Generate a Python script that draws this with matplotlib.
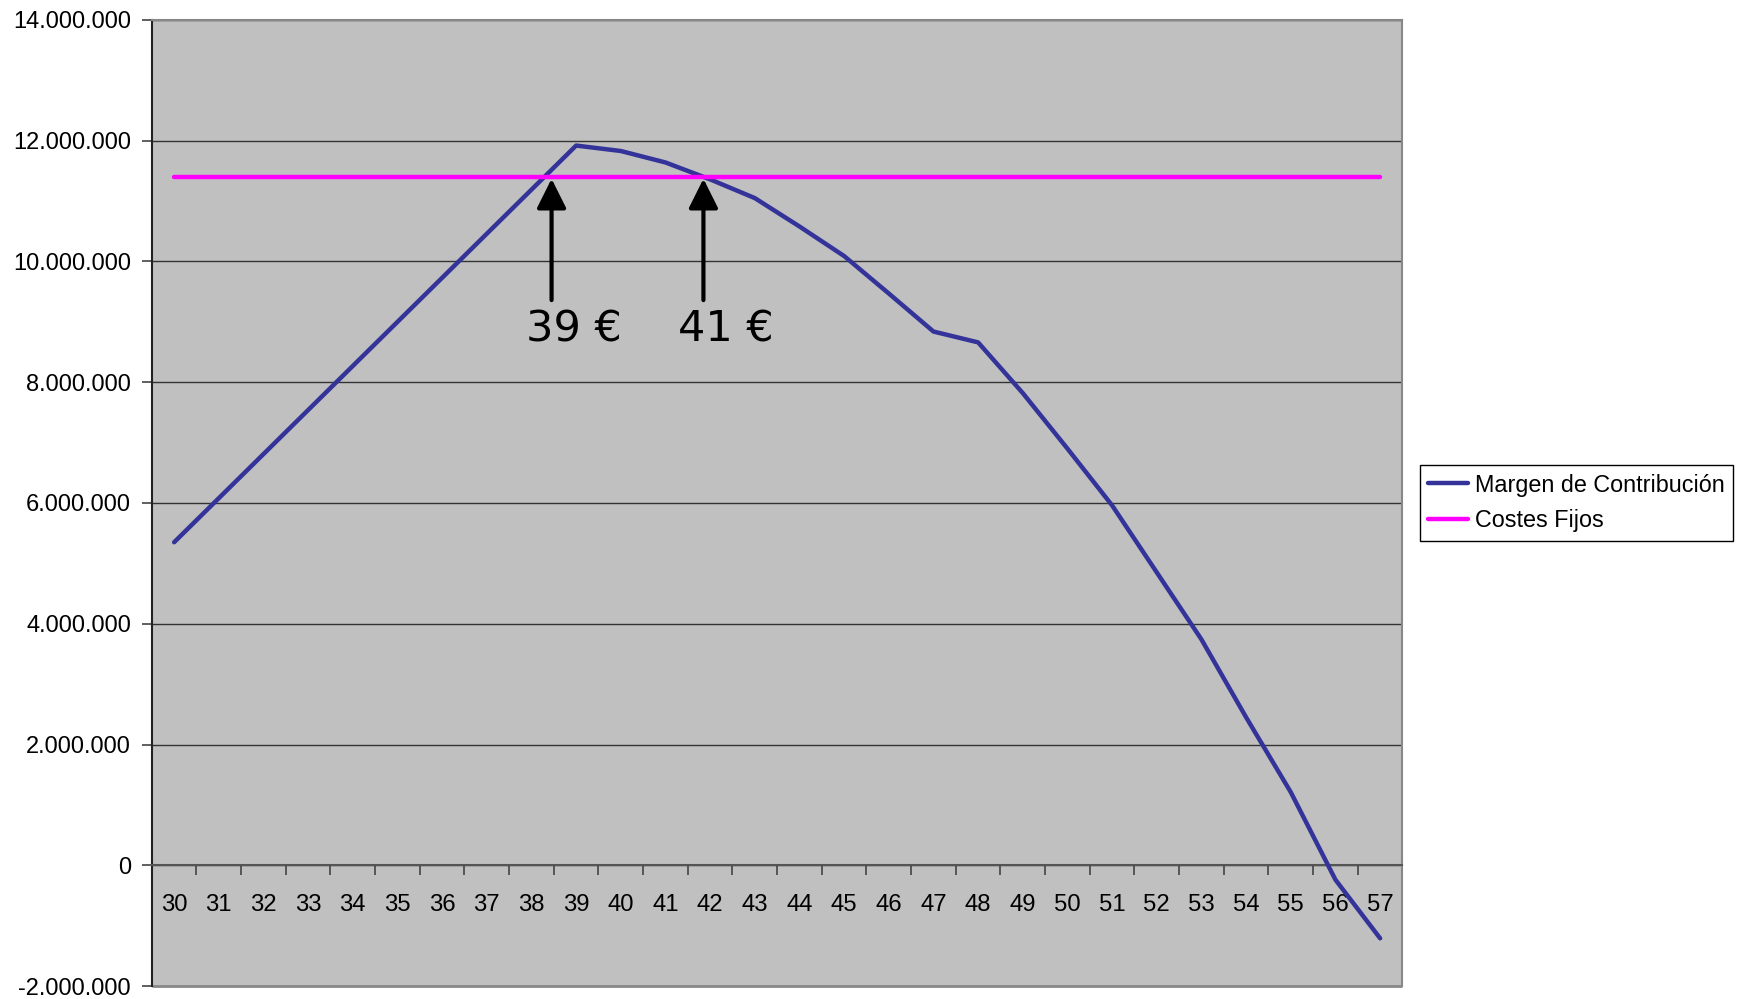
import matplotlib
matplotlib.use("Agg")
import matplotlib.pyplot as plt
from matplotlib.ticker import FuncFormatter, MultipleLocator, FixedLocator
from matplotlib.patches import Rectangle

plt.rcParams['font.family'] = ['Liberation Sans', 'DejaVu Sans']

# precio de venta (EUR)
precios = list(range(30, 58))

# margen de contribucion por precio
margen = [5.35e6, 6.08e6, 6.81e6, 7.54e6, 8.27e6, 9.00e6, 9.73e6, 10.46e6, 11.19e6, 11.92e6,
          11.83e6, 11.64e6, 11.36e6, 11.05e6, 10.58e6, 10.09e6, 9.47e6, 8.84e6, 8.66e6, 7.82e6,
          6.90e6, 5.96e6, 4.85e6, 3.74e6, 2.45e6, 1.21e6, -0.24e6, -1.21e6]

costes_fijos = [11.4e6] * len(precios)

# puntos de equilibrio marcados
eq_x = [38.45, 41.85]
eq_txt_x = [38.96, 42.34]
eq_labels = ["39 \u20ac", "41 \u20ac"]

fig = plt.figure(figsize=(17.37, 9.99), dpi=100)
ax = fig.add_axes([0.0874, 0.013, 0.7200, 0.967])
ax.set_facecolor('#C0C0C0')

ax.plot(precios, margen, color='#333399', lw=3.2, solid_capstyle='round',
        solid_joinstyle='round', label='Margen de Contribuci\u00f3n', zorder=3)
ax.plot(precios, costes_fijos, color='#FF00FF', lw=3.2, solid_capstyle='round',
        label='Costes Fijos', zorder=3)

for xa, xt, lab in zip(eq_x, eq_txt_x, eq_labels):
    ax.annotate('', xy=(xa, 11.37e6), xytext=(xa, 9.36e6),
                arrowprops=dict(arrowstyle='-|>,head_length=0.9,head_width=0.45',
                                mutation_scale=20, lw=3, color='black',
                                shrinkA=0, shrinkB=0), zorder=4)
    ax.text(xt, 8.67e6, lab, ha='center', va='baseline', fontsize=31,
            family='DejaVu Sans', color='black', zorder=4)

ax.set_xlim(29.5, 57.5)
ax.set_ylim(-2e6, 14e6)

ax.yaxis.set_major_locator(MultipleLocator(2e6))
ax.yaxis.set_major_formatter(FuncFormatter(lambda v, p: f"{int(round(v)):,}".replace(',', '.')))
ax.grid(axis='y', color='#333333', lw=1)
ax.set_axisbelow(True)

ax.xaxis.set_major_locator(FixedLocator(precios))
ax.set_xticklabels([str(p) for p in precios])
ax.xaxis.set_minor_locator(FixedLocator([p + 0.5 for p in range(29, 58)]))
ax.spines['bottom'].set_position(('data', 0))
ax.spines['bottom'].set_color('#555555')
ax.spines['bottom'].set_linewidth(1.5)
ax.tick_params(axis='x', which='major', length=0, pad=21, labelsize=17.2)
ax.tick_params(axis='x', which='minor', length=7, width=1.2, color='#444444', direction='out')
ax.tick_params(axis='y', length=7, width=1.2, pad=8, labelsize=17.0, color='#444444')

ax.spines['left'].set_color('#222222')
ax.spines['left'].set_linewidth(1.5)
for s in ['top', 'right']:
    ax.spines[s].set_color('#888888')
    ax.spines[s].set_linewidth(1.5)
ax.add_patch(Rectangle((0, 0), 1, 0.0, transform=ax.transAxes, fill=False,
                       edgecolor='#888888', lw=2, clip_on=False))

leg = fig.legend(loc='center left', bbox_to_anchor=(0.8175, 0.4965), fontsize=16.8,
                 frameon=True, fancybox=False, edgecolor='black', framealpha=1,
                 handlelength=1.7, handletextpad=0.3, borderpad=0.35, labelspacing=0.55,
                 borderaxespad=0)
leg.get_frame().set_linewidth(1)

fig.savefig('out.png', dpi=100, facecolor='white')
